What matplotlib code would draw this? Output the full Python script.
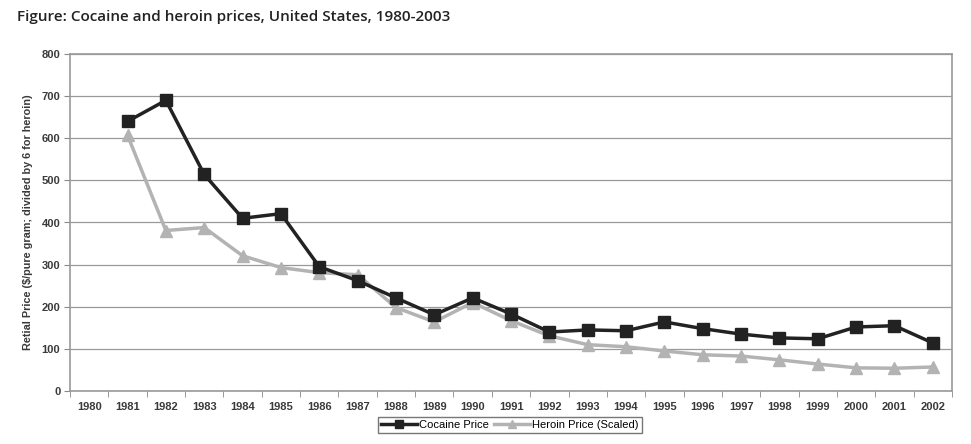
import matplotlib
matplotlib.use("Agg")
import matplotlib.pyplot as plt
import numpy as np

years = [str(y) for y in range(1980, 2003)]
cocaine_years = list(range(1981, 2003))
cocaine = [640, 690, 514, 410, 421, 295, 262, 221, 181, 221, 183, 140, 145, 143, 164, 148, 135, 126, 124, 152, 155, 114]
heroin = [607, 381, 388, 321, 293, 281, 276, 198, 164, 210, 167, 131, 110, 105, 95, 86, 83, 74, 64, 55, 54, 57]
yticks = [0, 100, 200, 300, 400, 500, 600, 700, 800]

fig = plt.figure(figsize=(9.71, 4.44), dpi=100)
ax = fig.add_axes([70/971, 1-391/444, 882/971, 337/444])

xpos = np.array([y - 1980 for y in cocaine_years])
ax.plot(xpos, heroin, color="#b3b3b3", lw=2.5, marker="^", ms=8.5, label="Heroin Price (Scaled)", zorder=3)
ax.plot(xpos, cocaine, color="#222222", lw=2.5, marker="s", ms=8, label="Cocaine Price", zorder=4)

ax.set_xlim(-0.5, len(years) - 0.5)
ax.set_ylim(0, 800)
ax.set_yticks(yticks)
ax.set_yticklabels([str(v) for v in yticks], fontsize=8, family="Liberation Sans", fontweight="bold", color="#3a3a3a")
ax.set_xticks(range(len(years)))
ax.set_xticklabels(years, fontsize=8, family="Liberation Sans", fontweight="bold", color="#3a3a3a")
ax.set_xticks(np.arange(-0.5, len(years) + 0.5, 1), minor=True)
ax.tick_params(axis="x", which="major", length=0, pad=8)
ax.tick_params(axis="x", which="minor", length=4, color="#888888", direction="out")
ax.tick_params(axis="y", length=4, color="#888888", pad=3)
ax.grid(axis="y", color="#999999", lw=0.9)
ax.set_axisbelow(True)
for s in ax.spines.values():
    s.set_color("#999999")
    s.set_linewidth(1.2)

ax.set_ylabel("Retial Price ($/pure gram; divided by 6 for heroin)", fontsize=7.8, family="Liberation Sans",
              fontweight="bold", color="#3a3a3a", labelpad=6)

handles, labels = ax.get_legend_handles_labels()
leg = fig.legend(handles[::-1], labels[::-1], loc="center", bbox_to_anchor=(510/971, 1-425/444), ncol=2,
                 frameon=True, fancybox=False, edgecolor="#555555",
                 prop={"family": "Liberation Sans", "size": 8}, handlelength=3.2, columnspacing=0.5,
                 handletextpad=0.2, borderpad=0.3, markerscale=0.75)
leg.get_frame().set_linewidth(1)

fig.text(17/971, 1-17/444, "Figure: Cocaine and heroin prices, United States, 1980-2003", fontsize=11,
         family="Open Sans", fontweight="semibold", va="center", ha="left", color="#222222")

fig.savefig("out.png", dpi=100)
